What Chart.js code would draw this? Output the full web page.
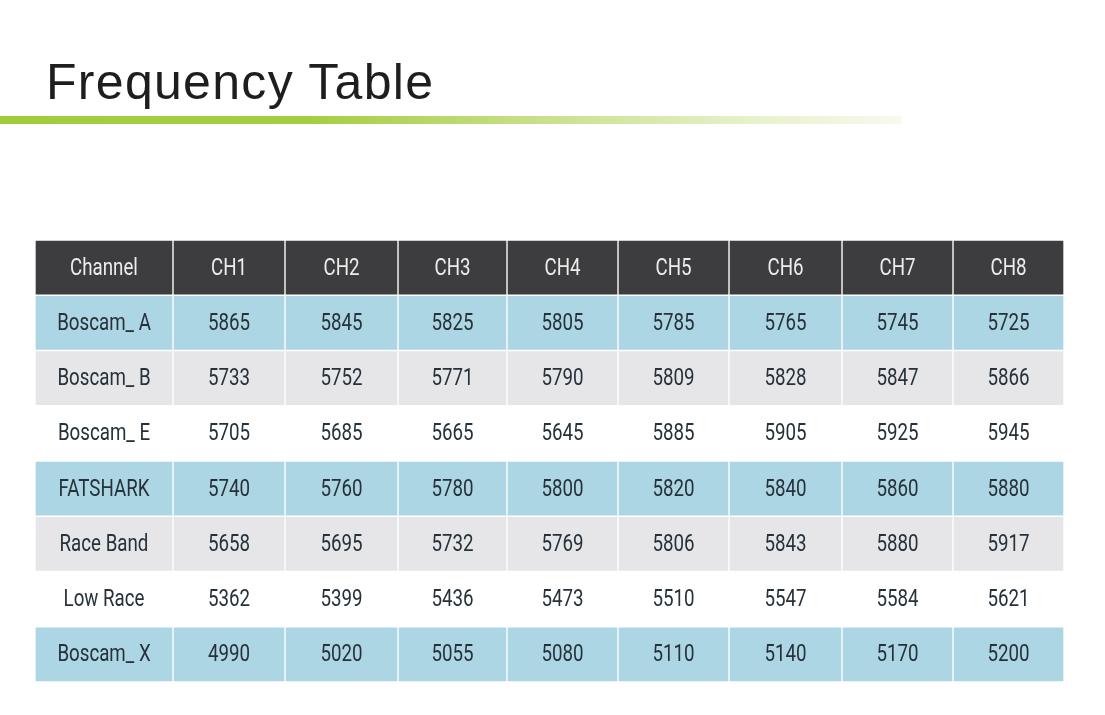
<!DOCTYPE html>
<html>
<head>
<meta charset="utf-8">
<script src="https://cdn.jsdelivr.net/npm/chart.js@4"></script>
<style>
  body { margin: 0; width: 1105px; height: 715px; background: #fff; position: relative; overflow: hidden; }
  #title { position: absolute; left: 46px; top: 53px; font-family: "Liberation Sans", Arial, sans-serif; font-size: 50px; letter-spacing: 1.3px; color: #1e1e1e; margin: 0; font-weight: normal; }
  #rule { position: absolute; left: 0; top: 116px; width: 902px; height: 8px;
          background: linear-gradient(to right, #a2cb3c 0%, #a6ce44 35%, #c8e08a 60%, #e6f0c8 82%, #f7faee 100%); }
  #wrap { position: absolute; left: 35px; top: 240px; width: 1029px; height: 442px; }
</style>
</head>
<body>
<h1 id="title">Frequency Table</h1>
<div id="rule"></div>
<div id="wrap"><canvas id="table" width="1029" height="442"></canvas></div>
<script>
// Table data
const headers = ["Channel", "CH1", "CH2", "CH3", "CH4", "CH5", "CH6", "CH7", "CH8"];
const bands = ["Boscam_ A", "Boscam_ B", "Boscam_ E", "FATSHARK", "Race Band", "Low Race", "Boscam_ X"];
const boscamA = [5865, 5845, 5825, 5805, 5785, 5765, 5745, 5725];
const boscamB = [5733, 5752, 5771, 5790, 5809, 5828, 5847, 5866];
const boscamE = [5705, 5685, 5665, 5645, 5885, 5905, 5925, 5945];
const fatshark = [5740, 5760, 5780, 5800, 5820, 5840, 5860, 5880];
const raceBand = [5658, 5695, 5732, 5769, 5806, 5843, 5880, 5917];
const lowRace = [5362, 5399, 5436, 5473, 5510, 5547, 5584, 5621];
const boscamX = [4990, 5020, 5055, 5080, 5110, 5140, 5170, 5200];

// Layout and colours
const colWidths = [138, 112, 113, 109, 111, 111, 113, 111, 111];
const rowColors = ["#3d3d3f", "#acd6e4", "#e6e6e8", "#ffffff", "#acd6e4", "#e6e6e8", "#ffffff", "#acd6e4"];

// Build rows: header + each band
const values = [boscamA, boscamB, boscamE, fatshark, raceBand, lowRace, boscamX];
const rows = [headers].concat(bands.map((b, i) => [b].concat(values[i].map(String))));
const rowKeys = rows.map((r, i) => "r" + i);

// Column edges from widths
const edges = [0];
colWidths.forEach(w => edges.push(edges[edges.length - 1] + w));

// One floating-bar dataset per column
const datasets = headers.map((h, c) => ({
    label: h,
    data: rows.map(() => [edges[c], edges[c + 1]]),
    backgroundColor: rowColors,
    borderColor: "#ffffff",
    borderWidth: 1,
    borderSkipped: false,
    categoryPercentage: 1,
    barPercentage: 1,
    grouped: false
}));

// Plugin to write the cell texts
const cellText = {
    id: "cellText",
    afterDatasetsDraw(chart) {
        const ctx = chart.ctx;
        chart.data.datasets.forEach((ds, c) => {
            chart.getDatasetMeta(c).data.forEach((bar, r) => {
                const p = bar.getProps(["x", "y", "base"], true);
                const cx = (p.x + p.base) / 2;
                ctx.save();
                ctx.translate(cx, p.y + 1);
                ctx.scale(0.78, 1);
                ctx.font = "24px Roboto";
                ctx.textAlign = "center";
                ctx.textBaseline = "middle";
                ctx.fillStyle = r === 0 ? "#ededed" : "#26313a";
                ctx.fillText(rows[r][c], 0, 0);
                ctx.restore();
            });
        });
    }
};

new Chart(document.getElementById("table"), {
    type: "bar",
    data: { labels: rowKeys, datasets: datasets },
    options: {
        indexAxis: "y",
        responsive: false,
        animation: false,
        layout: { padding: 0 },
        plugins: { legend: { display: false }, tooltip: { enabled: false } },
        scales: {
            x: { type: "linear", min: 0, max: edges[edges.length - 1], display: false },
            y: { display: false }
        }
    },
    plugins: [cellText]
});
</script>
</body>
</html>
